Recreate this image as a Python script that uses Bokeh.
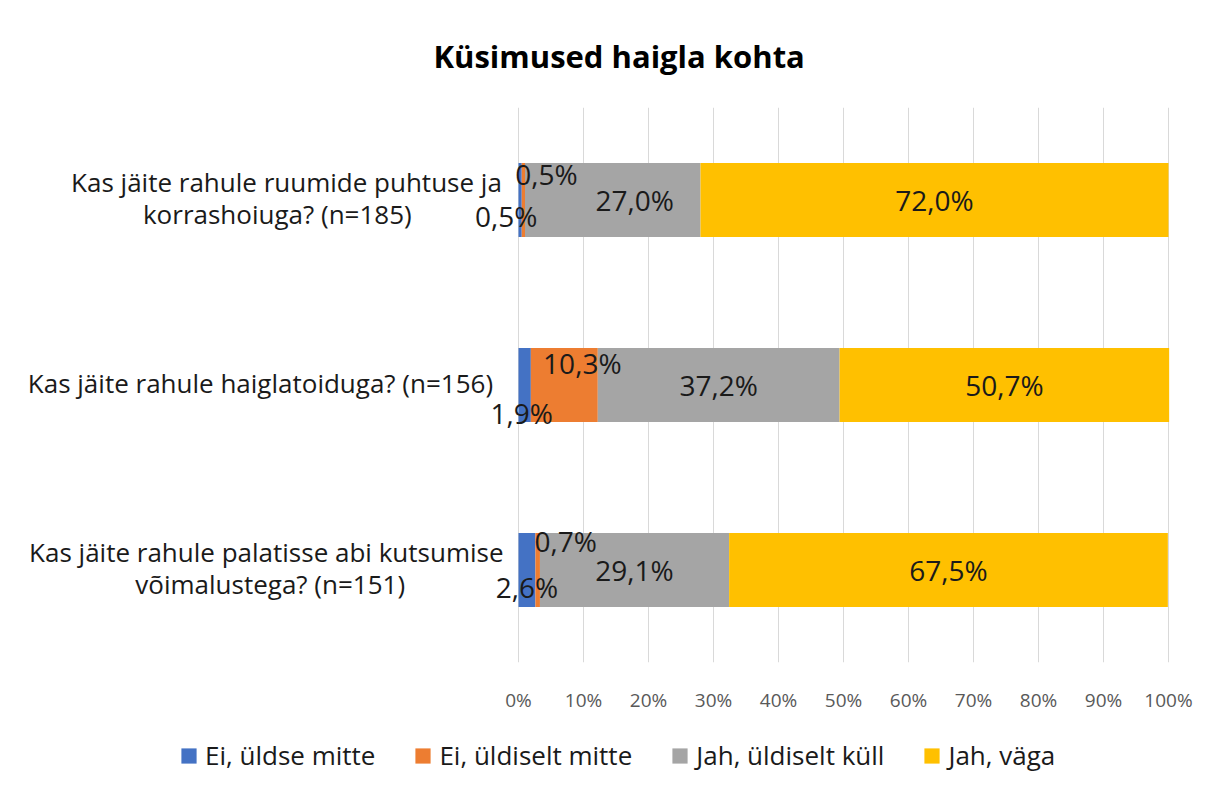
from bokeh.plotting import figure
from bokeh.layouts import column
from bokeh.models import (ColumnDataSource, FactorRange, Range1d, LabelSet, Legend,
                          LegendItem, FixedTicker, PrintfTickFormatter)
from bokeh.core.properties import value
from bokeh.embed import file_html
from bokeh.resources import INLINE

# ---- data ----
categories = ["Kas jäite rahule ruumide puhtuse ja korrashoiuga? (n=185)",
              "Kas jäite rahule haiglatoiduga? (n=156)",
              "Kas jäite rahule palatisse abi kutsumise võimalustega? (n=151)"]
# wrapped lines of each category label
category_lines = [["Kas jäite rahule ruumide puhtuse ja", "korrashoiuga? (n=185)"],
                  ["Kas jäite rahule haiglatoiduga? (n=156)"],
                  ["Kas jäite rahule palatisse abi kutsumise", "võimalustega? (n=151)"]]
series_names = ["Ei, üldse mitte", "Ei, üldiselt mitte", "Jah, üldiselt küll", "Jah, väga"]
ei_uldse_mitte = [0.5, 1.9, 2.6]
ei_uldiselt_mitte = [0.5, 10.3, 0.7]
jah_uldiselt_kull = [27.0, 37.2, 29.1]
jah_vaga = [72.0, 50.7, 67.5]
x_ticks = [0, 10, 20, 30, 40, 50, 60, 70, 80, 90, 100]

# ---- styles ----
colors = ["#4472C4", "#ED7D31", "#A5A5A5", "#FFC000"]
FONT = "Open Sans"
TEXT_COLOR = "#1a1a1a"
# label offsets (px) for each series, per row (manual placement like original)
label_dx = [[-14, -3, 0], [23, 18, 28], [22, 0, 0], [0, 0, 0]]
label_dy = [[-16, -28, -17], [26, 22, 29], [0, 0, 0], [0, 0, 0]]
# category label line centres (x in data units left of 0%) and vertical offsets (px)
cat_line_x = [[-35.7, -37.1], [-39.7], [-38.8, -38.2]]
cat_line_dy = [[18, -14], [2], [18, -14]]

series_values = [ei_uldse_mitte, ei_uldiselt_mitte, jah_uldiselt_kull, jah_vaga]
keys = ["s0", "s1", "s2", "s3"]

data = {"cat": categories}
for k, v in zip(keys, series_values):
    data[k] = v
source = ColumnDataSource(data)

p = figure(width=1197, height=715, output_backend="svg", toolbar_location=None,
           y_range=FactorRange(factors=list(reversed(categories))),
           x_range=Range1d(-79.692, 104.462), y_axis_location=None,
           min_border_left=0, min_border_right=0, min_border_top=107, min_border_bottom=45,
           title="Küsimused haigla kohta")

p.title.align = "left"
p.title.offset = 433
p.title.text_font = FONT
p.title.text_font_size = "31px"
p.title.text_font_style = "bold"
p.title.text_color = "#000000"
p.title.standoff = 62

renderers = p.hbar_stack(keys, y="cat", height=0.4, color=colors, line_color=None, source=source)

# data labels
for i, (k, vals) in enumerate(zip(keys, series_values)):
    left = [sum(series_values[j][r] for j in range(i)) for r in range(len(categories))]
    centers = [l + v / 2 for l, v in zip(left, vals)]
    texts = [("%.1f" % v).replace(".", ",") + "%" for v in vals]
    ls = ColumnDataSource(dict(x=centers, y=categories, t=texts, dx=label_dx[i], dy=label_dy[i]))
    p.add_layout(LabelSet(x="x", y="y", text="t", source=ls, x_offset="dx", y_offset="dy",
                          text_align="center", text_baseline="middle",
                          text_font=value(FONT), text_font_size="28px", text_color=TEXT_COLOR))

# category labels (one entry per wrapped line, centred)
cx, cy, ct, cdy = [], [], [], []
for cat, lines, xs, dys in zip(categories, category_lines, cat_line_x, cat_line_dy):
    for line, x, dy in zip(lines, xs, dys):
        cx.append(x); cy.append(cat); ct.append(line); cdy.append(dy)
cs = ColumnDataSource(dict(x=cx, y=cy, t=ct, dy=cdy))
p.add_layout(LabelSet(x="x", y="y", text="t", source=cs, y_offset="dy", text_align="center",
                      text_baseline="middle", text_font=value(FONT), text_font_size="26px",
                      text_color=TEXT_COLOR))

# axes and grid
p.ygrid.grid_line_color = None
p.xgrid.grid_line_color = "#d9d9d9"
p.xgrid.grid_line_width = 1
p.xaxis.ticker = FixedTicker(ticks=x_ticks)
p.xaxis.formatter = PrintfTickFormatter(format="%d%%")
p.xaxis.axis_line_color = None
p.xaxis.major_tick_line_color = None
p.xaxis.minor_tick_line_color = None
p.xaxis.major_label_text_font = FONT
p.xaxis.major_label_text_font_size = "19px"
p.xaxis.major_label_text_color = "#595959"
p.xaxis.major_label_standoff = 18
p.outline_line_color = None

# legend strip below (zero-height bars outside its visible x range; only swatches show)
p2 = figure(width=1197, height=68, output_backend="svg", toolbar_location=None,
            x_range=Range1d(200, 300), y_range=FactorRange(factors=categories),
            x_axis_location=None, y_axis_location=None,
            min_border_left=0, min_border_right=0, min_border_top=0, min_border_bottom=0)
p2.grid.grid_line_color = None
p2.outline_line_color = None
swatches = p2.hbar_stack(keys, y="cat", height=0, color=colors, line_color=None, source=source)
legend = Legend(items=[LegendItem(label=n, renderers=[r]) for n, r in zip(series_names, swatches)],
                orientation="horizontal", location=(179, 10),
                label_text_font=FONT, label_text_font_size="26px", label_text_color=TEXT_COLOR,
                glyph_width=19, glyph_height=19, label_standoff=7, spacing=38,
                border_line_color=None, background_fill_alpha=0, margin=0, padding=4)
p2.add_layout(legend)

layout = column(p, p2, spacing=0)
open("out.html", "w").write(file_html(layout, INLINE))
